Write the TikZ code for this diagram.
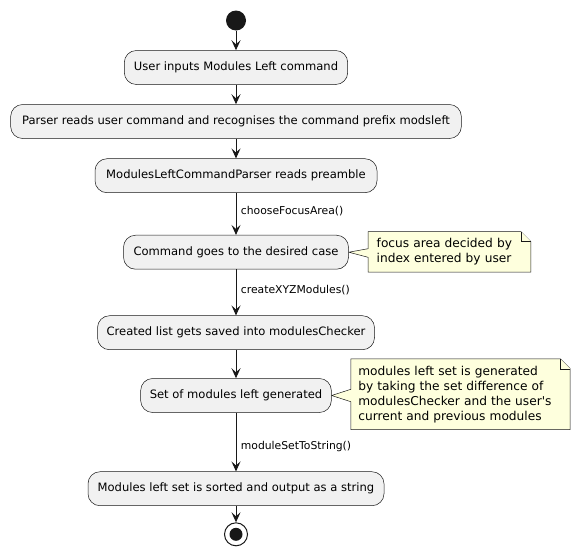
\documentclass[tikz,border=0pt]{standalone}
\usepackage{fontspec}
\setmainfont{DejaVu Sans}[Ligatures=TeXOff]
\usetikzlibrary{arrows.meta,backgrounds}
\definecolor{boxfill}{HTML}{F1F1F1}
\definecolor{ink}{HTML}{181818}
\definecolor{notefill}{HTML}{FEFFDD}
\begin{document}
\begin{tikzpicture}[x=1pt,y=-1pt,
  act/.style={draw=ink, line width=0.5pt, fill=boxfill, rounded corners=12pt,
    minimum height=34pt, inner sep=0pt, font=\fontsize{11.55}{13}\selectfont, text=black},
  flow/.style={draw=ink, line width=1pt, -{Stealth[length=10pt,width=9pt,inset=4pt]}},
  lbl/.style={anchor=west, inner sep=0pt, font=\fontsize{10.8}{13}\selectfont},
  notetxt/.style={inner sep=0pt, align=left, font=\fontsize{12.2}{15}\selectfont},
  noteshape/.style={draw=ink, line width=0.5pt, fill=notefill},
]
\useasboundingbox (0,0) rectangle (580,557);
\node[circle, fill=ink, minimum size=20pt, inner sep=0pt] (start) at (236,20.5) {};
\node[act, minimum width=223.4pt] (b1) at (236,67.5) {User inputs Modules Left command};
\node[act, minimum width=450.7pt] (b2) at (236,121.5) {Parser reads user command and recognises the command prefix modsleft};
\node[act, minimum width=282pt] (b3) at (236,175.7) {ModulesLeftCommandParser reads preamble};
\node[act, minimum width=225pt] (b4) at (236,252.2) {Command goes to the desired case};
\node[act, minimum width=277pt] (b5) at (236,332.7) {Created list gets saved into modulesChecker};
\node[act, minimum width=190.7pt] (b6) at (236,395.5) {Set of modules left generated};
\node[act, minimum width=296pt] (b7) at (236,488.7) {Modules left set is sorted and output as a string};
\node[circle, draw=ink, line width=1pt, minimum size=23pt, inner sep=0pt] (end) at (236,534.3) {};
\fill[ink] (end.center) circle (6.5pt);

\node[lbl] (l1) at (240.7,210.7) {chooseFocusArea()};
\node[lbl] (l2) at (240.7,290) {createXYZModules()};
\node[lbl] (l3) at (240.7,446.7) {moduleSetToString()};

\draw[flow] (start.south) -- (b1.north);
\draw[flow] (b1.south) -- (b2.north);
\draw[flow] (b2.south) -- (b3.north);
\draw[flow] (b3.south) -- (b4.north);
\draw[flow] (b4.south) -- (b5.north);
\draw[flow] (b5.south) -- (b6.north);
\draw[flow] (b6.south) -- (b7.north);
\draw[flow] (b7.south) -- (end.north);

\node[notetxt, minimum width=162.4pt, minimum height=40pt, text width=145.6pt] (n1) at (449.5,251.85)
  {focus area decided by\\index entered by user};
\node[notetxt, minimum width=219pt, minimum height=70.5pt, text width=204.4pt] (n2) at (460.5,394.25)
  {modules left set is generated\\by taking the set difference of\\modulesChecker and the user's\\current and previous modules};

\begin{scope}[on background layer]
\draw[noteshape] (n1.north west) -- ([xshift=-10pt]n1.north east) -- ([yshift=-10pt]n1.north east)
  -- (n1.south east) -- (n1.south west) -- ([yshift=-5.45pt]n1.west) -- (b4.east)
  -- ([yshift=3.15pt]n1.west) -- cycle;
\draw[noteshape] ([xshift=-10pt]n1.north east) -- ([xshift=-10pt,yshift=-10pt]n1.north east) -- ([yshift=-10pt]n1.north east);
\draw[noteshape] (n2.north west) -- ([xshift=-10pt]n2.north east) -- ([yshift=-10pt]n2.north east)
  -- (n2.south east) -- (n2.south west) -- ([yshift=-7.45pt]n2.west) -- (b6.east)
  -- ([yshift=4.95pt]n2.west) -- cycle;
\draw[noteshape] ([xshift=-10pt]n2.north east) -- ([xshift=-10pt,yshift=-10pt]n2.north east) -- ([yshift=-10pt]n2.north east);
\end{scope}
\end{tikzpicture}
\end{document}
